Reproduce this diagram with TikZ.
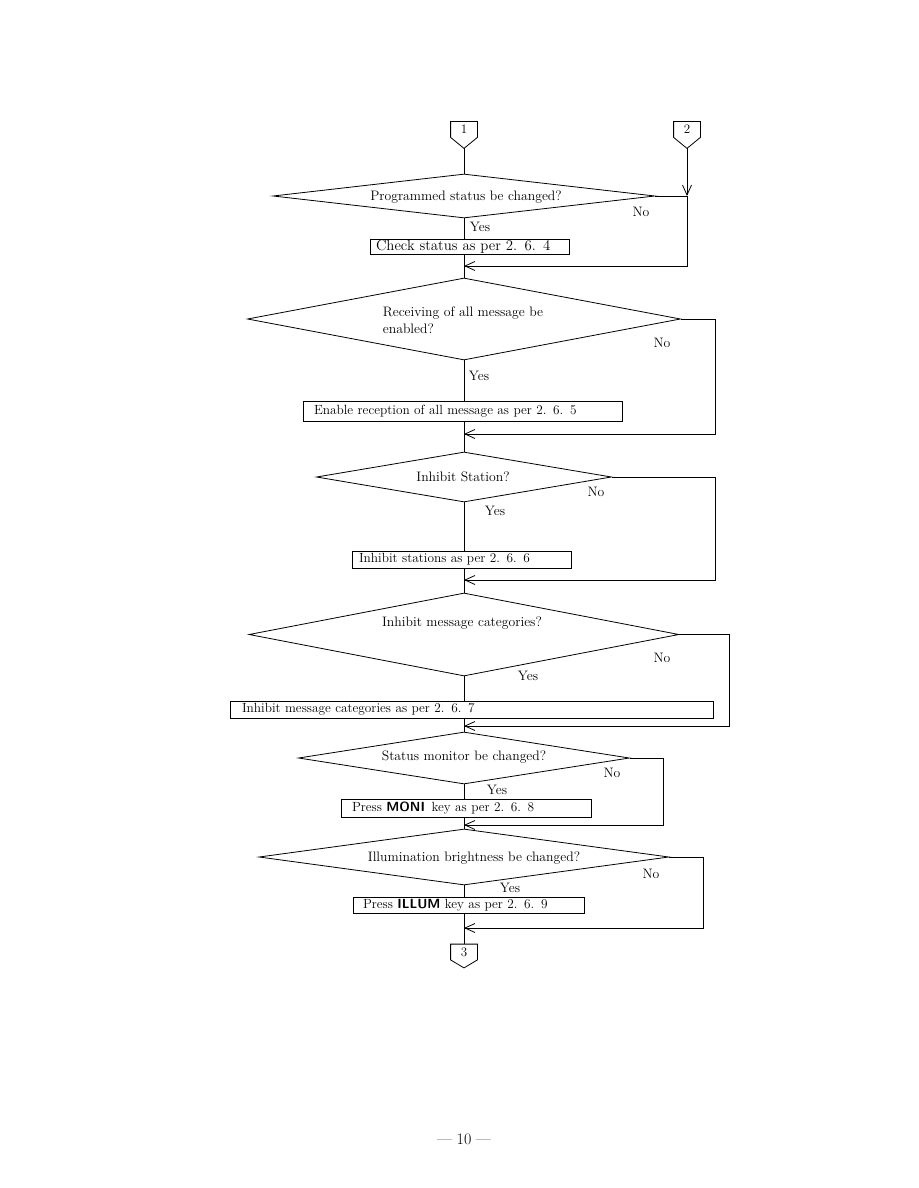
\documentclass[tikz,border=0pt]{standalone}
\usetikzlibrary{shapes.geometric,arrows.meta}
\newcommand\myfs{\fontsize{13.7}{17.5}\selectfont}
\newcommand\boxfs{\fontsize{13.3}{16}\selectfont}
\newcommand\keyname[1]{{\sffamily\bfseries #1}}
\begin{document}
\begin{tikzpicture}[x=1pt,y=-1pt,line width=0.8pt,
  every node/.style={font=\myfs,inner sep=0pt},
  dia/.style={draw,diamond,inner sep=0pt},
  box/.style={draw,rectangle,align=left,font=\boxfs},
  arr/.style={-{Straight Barb[length=10pt,width=9pt]}},
  conn/.style={minimum width=26pt,minimum height=15pt,font=\fontsize{13}{15}\selectfont}]
\useasboundingbox (0,0) rectangle (918,1188);

% off-page connectors
\node[conn] (c1) at (464,129.5) {1};
\draw (c1.north west) -- (c1.north east) -- (c1.south east) -- ([yshift=-11pt]c1.south) coordinate (c1t) -- (c1.south west) -- cycle;
\node[conn] (c2) at (687,129.5) {2};
\draw (c2.north west) -- (c2.north east) -- (c2.south east) -- ([yshift=-11pt]c2.south) coordinate (c2t) -- (c2.south west) -- cycle;
\node[conn] (c3) at (464,952) {3};
\draw (c3.north west) -- (c3.north east) -- (c3.south east) -- ([yshift=-8pt]c3.south) coordinate (c3t) -- (c3.south west) -- cycle;

% decisions
\node[dia,minimum width=382pt,minimum height=44pt] (d1) at (464,196) {};
\node (t1) at (466,197) {Programmed status be changed?};
\node[dia,minimum width=433pt,minimum height=82pt] (d2) at (464,319) {};
\node[align=left] (t2) at (463,320) {Receiving of all message be\\enabled?};
\node[dia,minimum width=295pt,minimum height=50pt] (d3) at (464,477) {};
\node (t3) at (463,477) {Inhibit Station?};
\node[dia,minimum width=430pt,minimum height=83pt] (d4) at (464,634.5) {};
\node (t4) at (462,623) {Inhibit message categories?};
\node[dia,minimum width=331pt,minimum height=52pt] (d5) at (464,758) {};
\node (t5) at (464,757) {Status monitor be changed?};
\node[dia,minimum width=410pt,minimum height=56pt] (d6) at (464,857) {};
\node (t6) at (474,858) {Illumination brightness be changed?};

% process boxes
\node[box,minimum width=199pt,minimum height=15pt,text width=187pt,inner xsep=6pt,font=\fontsize{14.8}{16}\selectfont] (b1) at (469.5,246.5) {Check status as per 2. 6. 4};
\node[box,minimum width=319pt,minimum height=20pt,text width=297pt,inner xsep=11pt] (b2) at (462.5,411) {Enable reception of all message as per 2. 6. 5};
\node[box,minimum width=219pt,minimum height=17pt,text width=205pt,inner xsep=7pt] (b3) at (461.5,559.5) {Inhibit stations as per 2. 6. 6};
\node[box,minimum width=483pt,minimum height=17pt,text width=459pt,inner xsep=12pt] (b4) at (471.5,709.5) {Inhibit message categories as per 2. 6. 7};
\node[box,minimum width=250pt,minimum height=18pt,text width=228pt,inner xsep=11pt] (b5) at (466,808) {Press \keyname{MONI}\, key as per 2. 6. 8};
\node[box,minimum width=231pt,minimum height=16pt,text width=211pt,inner xsep=10pt] (b6) at (468.5,905) {Press \keyname{ILLUM} key as per 2. 6. 9};

% Yes / No labels
\node (y1) at (480,227) {Yes};  \node (n1) at (641,212) {No};
\node (y2) at (479,376) {Yes};  \node (n2) at (662,343) {No};
\node (y3) at (495,511) {Yes};  \node (n3) at (596,492) {No};
\node (y4) at (528,676) {Yes};  \node (n4) at (662,658) {No};
\node (y5) at (497,790) {Yes};  \node (n5) at (612,773) {No};
\node (y6) at (510,888) {Yes};  \node (n6) at (651,874) {No};

% merge points on the main line and right-hand turning points
\coordinate (j1) at (687,196);
\coordinate (m1) at (464,266); \coordinate (r1) at (687,266);
\coordinate (m2) at (464,434); \coordinate (r2) at (715,434);
\coordinate (m3) at (464,580); \coordinate (r3) at (715,580);
\coordinate (m4) at (464,726); \coordinate (r4) at (729,726);
\coordinate (m5) at (464,825); \coordinate (r5) at (663,825);
\coordinate (m6) at (464,928); \coordinate (r6) at (703,928);

% main line
\draw (c1t) -- (d1.north);
\draw (d1.south) -- (d1.south |- b1.north);
\draw (d1.south |- b1.south) -- (d2.north);
\draw (d2.south) -- (d2.south |- b2.north);
\draw (d2.south |- b2.south) -- (d3.north);
\draw (d3.south) -- (d3.south |- b3.north);
\draw (d3.south |- b3.south) -- (d4.north);
\draw (d4.south) -- (d4.south |- b4.north);
\draw (d4.south |- b4.south) -- (d5.north);
\draw (d5.south) -- (d5.south |- b5.north);
\draw (d5.south |- b5.south) -- (d6.north);
\draw (d6.south) -- (d6.south |- b6.north);
\draw (d6.south |- b6.south) -- (c3.north);

% "No" branches
\draw[arr] (c2t) -- (j1);
\draw[arr] (d1.east) -- (j1) -- (r1) -- (m1);
\draw[arr] (d2.east) -| (r2) -- (m2);
\draw[arr] (d3.east) -| (r3) -- (m3);
\draw[arr] (d4.east) -| (r4) -- (m4);
\draw[arr] (d5.east) -| (r5) -- (m5);
\draw[arr] (d6.east) -| (r6) -- (m6);

% page number
\node[font=\fontsize{16}{18}\selectfont] (pg) at (464,1139) {--- 10 ---};
\end{tikzpicture}
\end{document}
